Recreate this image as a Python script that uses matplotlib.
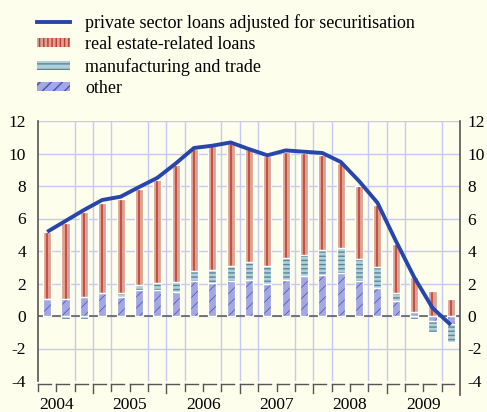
import numpy as np
import matplotlib
matplotlib.use("Agg")
import matplotlib.pyplot as plt
from matplotlib.patches import Patch
from matplotlib.lines import Line2D
import matplotlib.transforms as mtransforms

# ---------------- data (quarterly, 2004 Q2 - 2009 Q4) ----------------
quarters = ["2004Q2", "2004Q3", "2004Q4",
            "2005Q1", "2005Q2", "2005Q3", "2005Q4",
            "2006Q1", "2006Q2", "2006Q3", "2006Q4",
            "2007Q1", "2007Q2", "2007Q3", "2007Q4",
            "2008Q1", "2008Q2", "2008Q3", "2008Q4",
            "2009Q1", "2009Q2", "2009Q3", "2009Q4"]
other = [1.02, 1.02, 1.16, 1.43, 1.16, 1.57, 1.57, 1.47, 2.18, 2.04, 2.18, 2.24,
         1.94, 2.24, 2.45, 2.53, 2.65, 2.18, 1.71, 0.90, 0.25, -0.30, -0.52]
manufacturing = [0.00, -0.20, -0.20, 0.00, 0.28, 0.35, 0.45, 0.61, 0.57, 0.81, 0.92, 1.06,
                 1.12, 1.31, 1.32, 1.55, 1.51, 1.33, 1.29, 0.53, -0.20, -0.68, -1.07]
real_estate = [4.12, 4.73, 5.24, 5.54, 5.78, 5.87, 6.38, 7.24, 7.52, 7.63, 7.54, 6.97,
               6.77, 6.52, 6.26, 5.81, 5.26, 4.52, 3.81, 2.99, 2.14, 1.51, 1.06]
total_line = [5.18, 5.85, 6.52, 7.14, 7.34, 7.93, 8.50, 9.38, 10.34, 10.48, 10.68, 10.27,
              9.89, 10.19, 10.11, 10.03, 9.48, 8.30, 6.97, 4.63, 2.39, 0.50, -0.55]
years = ["2004", "2005", "2006", "2007", "2008", "2009"]
year_label_pos = [0.5, 4.5, 8.5, 12.5, 16.5, 20.5]
year_bounds = [2.5, 6.5, 10.5, 14.5, 18.5]
yticks = [-4, -2, 0, 2, 4, 6, 8, 10, 12]

# ---------------- style ----------------
BG = "#fefeec"
GRID = "#c6c9f2"
RE_FILL, RE_LINE = "#dca191", "#c0392b"
MT_FILL, MT_LINE = "#b7cdd6", "#4f8b9e"
OT_FILL, OT_LINE = "#a3a7e2", "#4650b8"
LINE_C = "#2846aa"
AX_C = "#555555"

plt.rcParams["font.family"] = ["Liberation Serif", "DejaVu Serif"]
plt.rcParams["axes.unicode_minus"] = False
FS = 12.5
LFS = 13

W, H = 487, 412
fig = plt.figure(figsize=(W / 100, H / 100), dpi=100, facecolor=BG)
ax_left, ax_right, ax_top, ax_bot = 38, 460, 121, 381
ax = fig.add_axes([ax_left / W, 1 - ax_bot / H, (ax_right - ax_left) / W, (ax_bot - ax_top) / H])
ax.set_facecolor(BG)

x = np.arange(len(quarters))
other = np.array(other)
manufacturing = np.array(manufacturing)
real_estate = np.array(real_estate)

# stacking: positives upwards, negatives downwards
pos_base = np.zeros(len(x))
neg_base = np.zeros(len(x))
def stack(vals):
    global pos_base, neg_base
    bottoms = np.where(vals >= 0, pos_base, neg_base)
    pos_base = pos_base + np.where(vals >= 0, vals, 0)
    neg_base = neg_base + np.where(vals < 0, vals, 0)
    return bottoms

bw = 0.44
b_ot = stack(other)
b_mt = stack(manufacturing)
b_re = stack(real_estate)

plt.rcParams["hatch.linewidth"] = 0.5
ax.bar(x, other, bw, bottom=b_ot, color=OT_FILL, hatch="///", edgecolor=OT_LINE, linewidth=0, zorder=3)
plt.rcParams["hatch.linewidth"] = 1.0
ax.bar(x, manufacturing, bw, bottom=b_mt, color=MT_FILL, hatch="----", edgecolor=MT_LINE, linewidth=0, zorder=3)
ax.bar(x, real_estate, bw, bottom=b_re, color=RE_FILL, linewidth=0, zorder=3)
ax.vlines(x, b_re, b_re + real_estate, color=RE_LINE, linewidth=1.1, zorder=3.5)
for vals, bots in [(other, b_ot), (manufacturing, b_mt), (real_estate, b_re)]:
    ax.bar(x, vals, bw, bottom=bots, fill=False, edgecolor="white", linewidth=0.9, zorder=4)

ax.plot(x, total_line, color=LINE_C, linewidth=2.8, solid_capstyle="butt", zorder=6)

# axes
ax.set_xlim(-0.5, len(x) - 0.5)
ax.set_ylim(-4, 12)
ax.set_yticks(yticks)
ax.set_yticklabels([str(v) for v in yticks])
ax.set_xticks(year_label_pos)
ax.set_xticklabels(years)
ax.set_xticks(np.arange(len(x) - 1) + 0.5, minor=True)
ax.tick_params(axis="x", which="both", length=0, pad=11.5, labelsize=FS)
ax.tick_params(axis="y", which="both", length=0, labelsize=FS, labelleft=True, labelright=False,
               left=False, right=False, pad=8.5)
ax.grid(True, which="minor", axis="x", color=GRID, linewidth=1.0, zorder=0)
ax.grid(True, which="major", axis="y", color=GRID, linewidth=1.0, zorder=0)
ax.grid(False, which="major", axis="x")
ax.set_axisbelow(True)
ygl = ax.get_ygridlines()
ygl[0].set_visible(False)
ax.axhline(0, color="#6a6a6a", linewidth=1.3, zorder=2)

for s in ["top", "bottom", "right"]:
    ax.spines[s].set_visible(False)
ax.spines["left"].set_color(AX_C)
ax.spines["left"].set_linewidth(1.2)

# right-hand tick labels (own padding)
ax2 = ax.twinx()
ax2.set_ylim(ax.get_ylim())
ax2.set_yticks(yticks)
ax2.set_yticklabels([str(v) for v in yticks])
ax2.tick_params(axis="y", length=0, labelsize=FS, pad=5.5)
for s in ax2.spines.values():
    s.set_visible(False)

# right axis line extended below the plot, and the bottom tick row
ph = ax_bot - ax_top
trans = mtransforms.blended_transform_factory(ax.transData, ax.transAxes)
ax.add_line(Line2D([1, 1], [1, -14 / ph], transform=ax.transAxes, color=AX_C, lw=1.2, clip_on=False))
row_y = -3 / ph
bounds = np.arange(len(x)) - 0.5
for b in bounds:
    long = any(abs(b - yb) < 1e-6 for yb in year_bounds)
    ax.add_line(Line2D([b, b + 0.7], [row_y, row_y], transform=trans, color=AX_C, lw=1.0, clip_on=False))
    ax.add_line(Line2D([b, b], [row_y, row_y - (9 if long else 6.5) / ph], transform=trans,
                       color=AX_C, lw=1.0, clip_on=False))

# legend
handles = [
    Line2D([0], [0], color=LINE_C, linewidth=2.8),
    Patch(facecolor=RE_FILL, edgecolor=RE_LINE, hatch="||||", linewidth=0),
    Patch(facecolor=MT_FILL, edgecolor=MT_LINE, hatch="---", linewidth=0),
    Patch(facecolor=OT_FILL, edgecolor=OT_LINE, hatch="///", linewidth=0),
]
labels = ["private sector loans adjusted for securitisation", "real estate-related loans",
          "manufacturing and trade", "other"]
fig.legend(handles, labels, loc="upper left", bbox_to_anchor=(37 / W, 1 - 14 / H),
           frameon=False, fontsize=LFS, handlelength=1.83, handleheight=0.4,
           handletextpad=0.83, labelspacing=0.25, borderpad=0, borderaxespad=0)

fig.savefig("out.png", dpi=100, facecolor=BG)
